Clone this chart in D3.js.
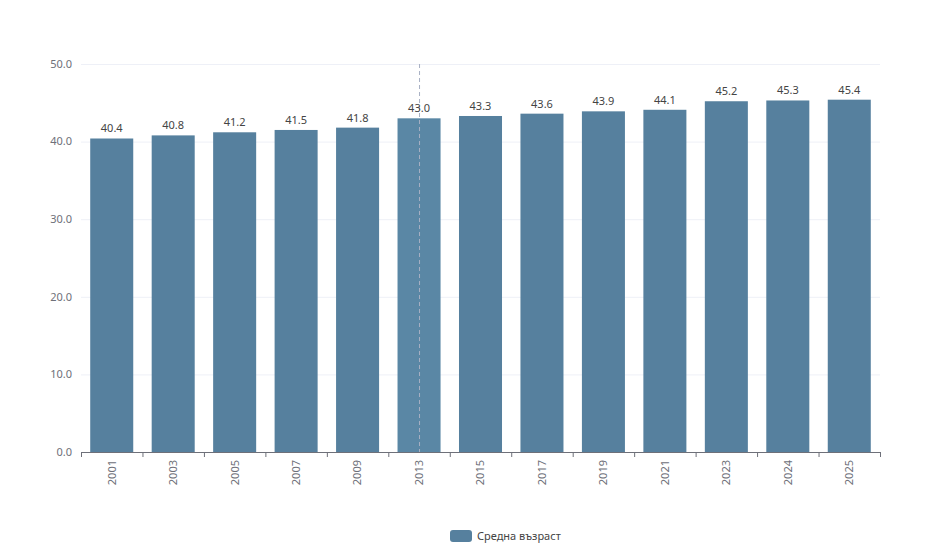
<!DOCTYPE html>
<html><head><meta charset="utf-8">
<script src="https://cdn.jsdelivr.net/npm/d3@7"></script>
<style>body{margin:0;background:#fff;font-family:"Noto Sans",sans-serif}</style>
</head><body><svg id="c" width="950" height="547"></svg>
<script>
const categories = ["2001","2003","2005","2007","2009","2013","2015","2017","2019","2021","2023","2024","2025"];
const values = [40.4,40.8,41.2,41.5,41.8,43.0,43.3,43.6,43.9,44.1,45.2,45.3,45.4];
const yTicks = [0,10,20,30,40,50];
const seriesName = "Средна възраст";
const pointerCategory = "2013";

const svg = d3.select("#c");
const m = {l:81, r:880, t:64, b:452};
const x = d3.scaleBand().domain(categories).range([m.l, m.r]).paddingInner(0.3).paddingOuter(0.15);
const xb = d3.scaleBand().domain(categories).range([m.l, m.r]);
const y = d3.scaleLinear().domain([0,50]).range([m.b, m.t]);
const color = "#56809e";

// grid
svg.append("g").selectAll("line").data(yTicks.filter(d=>d>0)).join("line")
  .attr("x1", m.l).attr("x2", m.r).attr("y1", d=>y(d)+0.5).attr("y2", d=>y(d)+0.5)
  .attr("stroke", "#eef0f7").attr("stroke-width", 1);

// y labels
svg.append("g").selectAll("text").data(yTicks).join("text")
  .attr("x", m.l-9).attr("y", d=>y(d)).attr("dy","0.35em").attr("text-anchor","end")
  .attr("font-size", 11).attr("fill", "#6e7079").text(d=>d.toFixed(1));

// bars
svg.append("g").selectAll("rect").data(values).join("rect")
  .attr("x", (d,i)=>x(categories[i])).attr("width", x.bandwidth())
  .attr("y", d=>y(d)).attr("height", d=>m.b - y(d))
  .attr("fill", (d,i)=>categories[i]===pointerCategory ? "#5a87a5" : color);

// axis pointer
const px = xb(pointerCategory) + xb.bandwidth()/2;
svg.append("line").attr("x1", px+0.5).attr("x2", px+0.5).attr("y1", m.t).attr("y2", m.b)
  .attr("stroke", "#a8b0c4").attr("stroke-dasharray", "4,3").attr("stroke-width", 1);

// value labels
svg.append("g").selectAll("text").data(values).join("text")
  .attr("x", (d,i)=>x(categories[i]) + x.bandwidth()/2).attr("y", d=>y(d)-6)
  .attr("text-anchor","middle").attr("font-size", 11).attr("fill", "#444").text(d=>d.toFixed(1));

// x axis
const xa = svg.append("g").attr("transform", `translate(0,${m.b})`)
  .call(d3.axisBottom(xb).tickSize(0).tickFormat(""));
xa.select(".domain").attr("stroke", "#6e7079");
const bounds = categories.map(c=>xb(c)).concat([m.r]);
svg.append("g").selectAll("line").data(bounds).join("line")
  .attr("x1", d=>d+0.5).attr("x2", d=>d+0.5).attr("y1", m.b).attr("y2", m.b+5)
  .attr("stroke", "#6e7079");
svg.append("g").selectAll("text").data(categories).join("text")
  .attr("transform", d=>`translate(${xb(d)+xb.bandwidth()/2},${m.b+8}) rotate(-90)`)
  .attr("text-anchor","end").attr("dy","0.35em").attr("font-size", 11).attr("fill", "#6e7079").text(d=>d);

// legend
const lg = svg.append("g").attr("transform", "translate(450,530)");
lg.append("rect").attr("width", 22).attr("height", 12).attr("rx", 3).attr("fill", color);
lg.append("text").attr("x", 27).attr("y", 6).attr("dy","0.35em").attr("font-size", 11).attr("fill", "#444").text(seriesName);
</script></body></html>
